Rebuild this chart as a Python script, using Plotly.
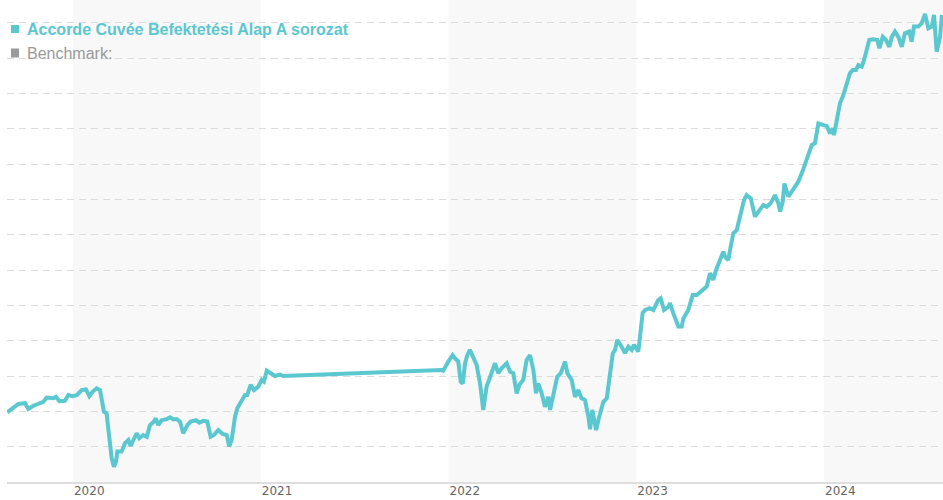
import plotly.graph_objects as go

# Decimal-year positions and fund values (grid units)
years = [
    2019.650, 2019.682, 2019.709, 2019.744, 2019.762, 2019.789, 2019.824, 2019.842, 2019.860, 2019.895,
    2019.909, 2019.927, 2019.957, 2019.975, 2019.998, 2020.020, 2020.046, 2020.069, 2020.087, 2020.105,
    2020.126, 2020.144, 2020.165, 2020.179, 2020.193, 2020.206, 2020.218, 2020.229, 2020.236, 2020.259,
    2020.277, 2020.295, 2020.307, 2020.321, 2020.339, 2020.353, 2020.374, 2020.393, 2020.410, 2020.431,
    2020.442, 2020.454, 2020.472, 2020.499, 2020.517, 2020.534, 2020.552, 2020.570, 2020.587, 2020.609,
    2020.627, 2020.655, 2020.673, 2020.694, 2020.715, 2020.733, 2020.751, 2020.774, 2020.797, 2020.819,
    2020.832, 2020.845, 2020.863, 2020.875, 2020.898, 2020.916, 2020.928, 2020.946, 2020.964, 2020.987,
    2021.005, 2021.017, 2021.032, 2021.053, 2021.076, 2021.103, 2021.120, 2021.964,
    2021.972, 2021.999, 2022.022, 2022.035, 2022.052, 2022.065, 2022.076, 2022.088, 2022.100, 2022.114,
    2022.132, 2022.150, 2022.168, 2022.185, 2022.203, 2022.225, 2022.248, 2022.265, 2022.283, 2022.310,
    2022.328, 2022.345, 2022.363, 2022.377, 2022.398, 2022.416, 2022.434, 2022.452, 2022.466, 2022.478,
    2022.496, 2022.514, 2022.532, 2022.541, 2022.558, 2022.579, 2022.598, 2022.621, 2022.633, 2022.656,
    2022.674, 2022.691, 2022.709, 2022.727, 2022.745, 2022.754, 2022.766, 2022.786, 2022.803, 2022.825,
    2022.843, 2022.856, 2022.875, 2022.887, 2022.899, 2022.922, 2022.940, 2022.958, 2022.976, 2022.988,
    2023.011, 2023.024,
    2023.034, 2023.047, 2023.073, 2023.091, 2023.117, 2023.130, 2023.148, 2023.171, 2023.180, 2023.197,
    2023.224, 2023.242, 2023.251, 2023.277, 2023.301, 2023.322, 2023.340, 2023.357, 2023.375, 2023.393,
    2023.410, 2023.425, 2023.442, 2023.464, 2023.473, 2023.490, 2023.503, 2023.517, 2023.535, 2023.549,
    2023.562, 2023.574, 2023.588, 2023.610, 2023.632, 2023.655, 2023.677, 2023.695, 2023.716, 2023.739,
    2023.757, 2023.766, 2023.780, 2023.789, 2023.810, 2023.828, 2023.846, 2023.863, 2023.888,
    2023.916, 2023.935, 2023.952, 2023.970, 2023.996, 2024.014, 2024.032, 2024.046, 2024.053, 2024.071,
    2024.085, 2024.103, 2024.121, 2024.138, 2024.153, 2024.170, 2024.183, 2024.201, 2024.213, 2024.227,
    2024.241, 2024.263, 2024.284, 2024.295, 2024.313, 2024.330, 2024.348, 2024.361, 2024.378, 2024.396,
    2024.414, 2024.431, 2024.454, 2024.467, 2024.479, 2024.502, 2024.520, 2024.538, 2024.556, 2024.574,
    2024.586, 2024.600, 2024.618, 2024.628,
]

fund_values = [
    1.97, 2.09, 2.21, 2.23, 2.07, 2.16, 2.23, 2.27, 2.39, 2.37,
    2.41, 2.29, 2.30, 2.46, 2.43, 2.46, 2.60, 2.62, 2.43, 2.56,
    2.65, 2.60, 1.99, 1.94, 1.28, 0.67, 0.43, 0.57, 0.86, 0.86,
    1.10, 1.19, 1.02, 1.19, 1.38, 1.24, 1.33, 1.28, 1.61, 1.71,
    1.80, 1.61, 1.75, 1.78, 1.83, 1.77, 1.78, 1.71, 1.38, 1.61,
    1.71, 1.75, 1.68, 1.73, 1.71, 1.28, 1.33, 1.47, 1.36, 1.33,
    1.00, 1.19, 1.85, 2.09, 2.27, 2.46, 2.46, 2.75, 2.60, 2.70,
    2.89, 2.84, 3.15, 3.09, 3.00, 3.04, 3.00, 3.17,
    3.15, 3.41, 3.59, 3.50, 3.41, 2.84, 2.79, 3.36, 3.59, 3.74,
    3.55, 3.31, 2.79, 2.04, 2.70, 3.03, 3.36, 3.08, 3.22, 3.36,
    3.12, 3.08, 2.51, 2.75, 2.89, 3.45, 3.59, 3.17, 2.51, 2.79,
    2.51, 2.13, 2.41, 2.04, 2.46, 2.98, 3.08, 3.41, 3.08, 2.89,
    2.41, 2.60, 2.37, 2.32, 1.85, 1.49, 2.04, 1.47, 1.85, 2.27,
    2.37, 2.89, 3.64, 3.74, 4.02, 3.83, 3.65, 3.83, 3.74, 3.88,
    3.69, 4.30,
    4.78, 4.87, 4.92, 4.87, 5.15, 5.20, 4.87, 4.96, 5.06, 4.78,
    4.40, 4.40, 4.63, 4.87, 5.29, 5.29, 5.36, 5.43, 5.53, 5.91,
    5.72, 6.00, 6.24, 6.52, 6.38, 6.28, 6.66, 7.04, 7.13, 7.42,
    7.70, 7.98, 8.12, 8.03, 7.51, 7.70, 7.84, 7.79, 7.89, 8.12,
    7.89, 7.65, 7.93, 8.45, 8.08, 8.22, 8.36, 8.50, 8.83,
    9.21, 9.54, 9.59, 10.15, 10.10, 10.08, 9.87, 10.01, 9.82, 10.34,
    10.72, 10.95, 11.24, 11.57, 11.66, 11.66, 11.80, 11.76, 11.94, 12.23,
    12.51, 12.53, 12.51, 12.28, 12.60, 12.51, 12.32, 12.60, 12.75, 12.60,
    12.32, 12.70, 12.75, 12.46, 12.89, 12.89, 12.98, 13.25, 12.84, 12.89,
    13.22, 12.18, 12.60, 13.22,
]

tick_years = [2020, 2021, 2022, 2023, 2024]
tick_labels = ["2020", "2021", "2022", "2023", "2024"]
shaded_years = [2020, 2022, 2024]

series_name = "Accorde Cuvée Befektetési Alap A sorozat"
benchmark_name = "Benchmark:"

TEAL = "#5bc7cf"
GREY = "#9a9a9a"

fig = go.Figure()
fig.add_trace(go.Scatter(
    x=years, y=fund_values, mode="lines", name=series_name,
    line=dict(color=TEAL, width=4), hoverinfo="skip",
))

for yr in shaded_years:
    fig.add_shape(type="rect", xref="x", yref="paper", x0=yr, x1=yr + 1, y0=0, y1=1,
                  fillcolor="#f8f8f8", line_width=0, layer="below")

# legend markers (squares)
fig.add_shape(type="rect", xref="paper", yref="paper", x0=0.0043, x1=0.0128, y0=0.9315, y1=0.9481,
              fillcolor=TEAL, line_width=0)
fig.add_shape(type="rect", xref="paper", yref="paper", x0=0.0043, x1=0.0128, y0=0.8807, y1=0.8994,
              fillcolor=GREY, line_width=0)

fig.add_annotation(xref="paper", yref="paper", x=0.0194, y=0.9388, xanchor="left", yanchor="middle",
                   text="<b>" + series_name + "</b>", showarrow=False,
                   font=dict(family="Liberation Sans, Arial", size=16, color=TEAL))
fig.add_annotation(xref="paper", yref="paper", x=0.0194, y=0.8890, xanchor="left", yanchor="middle",
                   text=benchmark_name, showarrow=False,
                   font=dict(family="Liberation Sans, Arial", size=16, color=GREY))

fig.update_layout(
    width=943, height=500,
    margin=dict(l=7, r=0, t=0, b=18),
    paper_bgcolor="white", plot_bgcolor="white",
    showlegend=False,
    xaxis=dict(
        range=[2019.6485, 2024.6338],
        tickvals=tick_years, ticktext=tick_labels,
        ticklabelposition="outside right",
        ticklabelstandoff=-3,
        ticks="", showgrid=False, zeroline=False,
        showline=True, linecolor="#dedede", linewidth=2,
        tickfont=dict(family="DejaVu Sans, Verdana", size=12, color="#666666"),
        fixedrange=True,
    ),
    yaxis=dict(
        range=[0, 13.643], tick0=0, dtick=1,
        showticklabels=False, ticks="",
        showgrid=True, gridcolor="#dcdcdc", gridwidth=1, griddash="7px,5px",
        zeroline=False, showline=False, fixedrange=True,
    ),
)

fig.write_html("out.html", config={"displayModeBar": False},
               post_script="document.body.style.margin='0';document.body.style.padding='0';")
